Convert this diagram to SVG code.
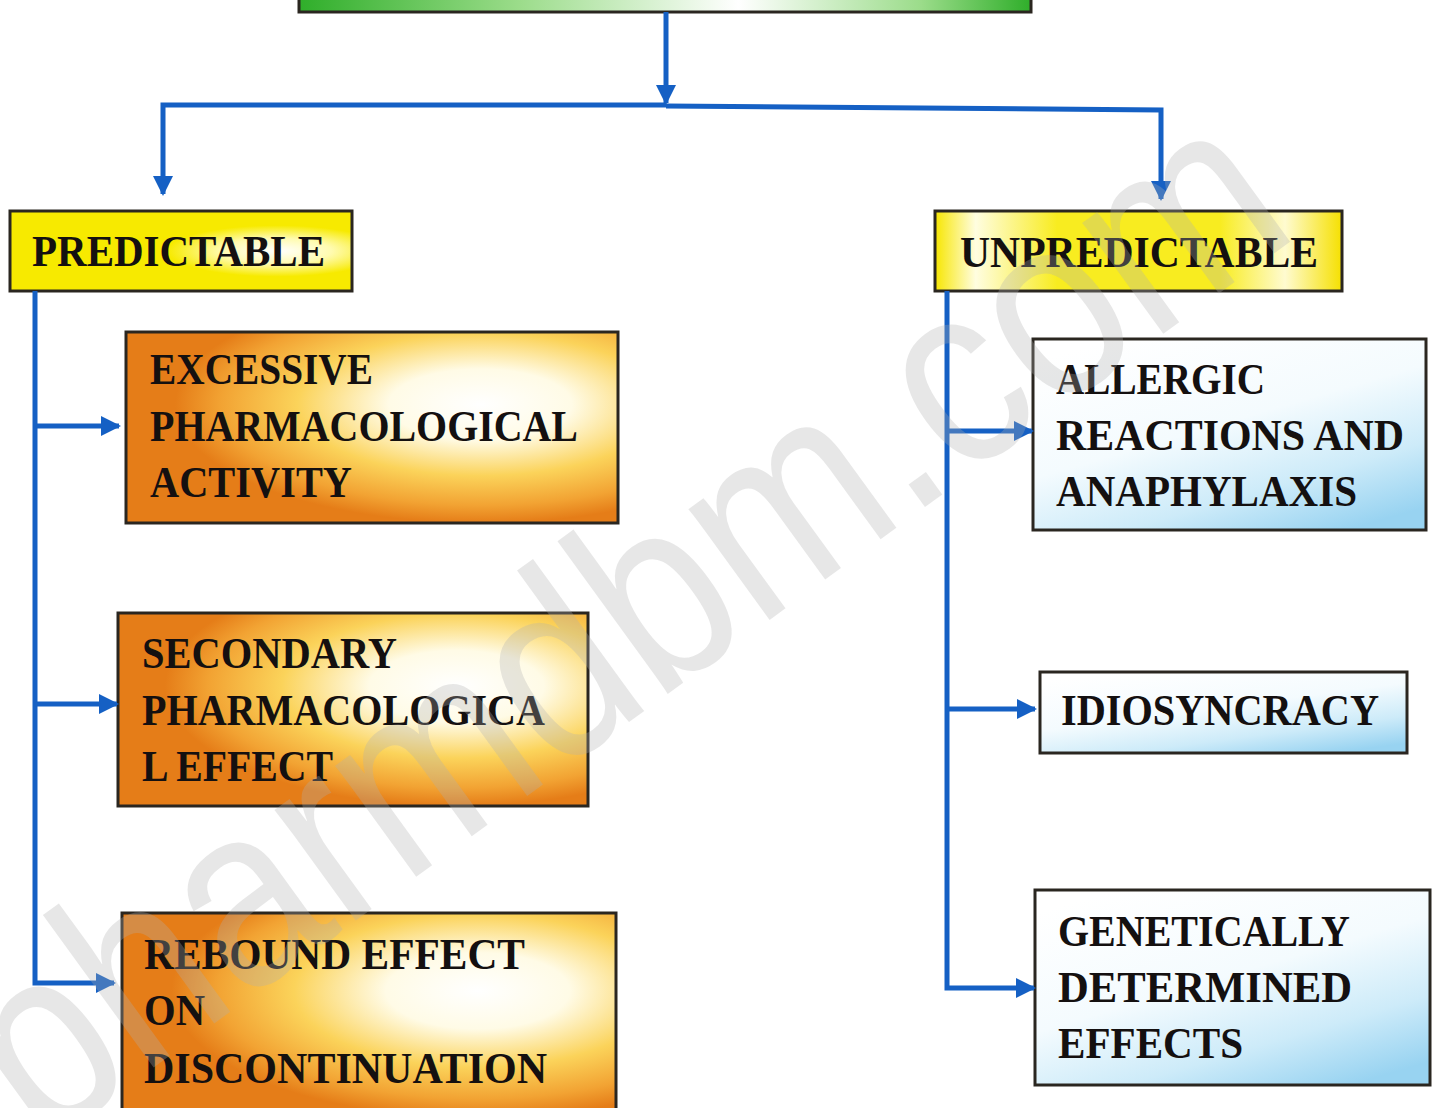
<svg xmlns="http://www.w3.org/2000/svg" width="1432" height="1108" viewBox="0 0 1432 1108">
<defs>
<linearGradient id="gGreen" x1="0" y1="0" x2="1" y2="0">
<stop offset="0" stop-color="#2fae2a"/><stop offset="0.3" stop-color="#9bdc8a"/><stop offset="0.6" stop-color="#ffffff"/><stop offset="0.85" stop-color="#9bdc8a"/><stop offset="1" stop-color="#2fae2a"/>
</linearGradient>
<radialGradient id="gYellowL" cx="0.78" cy="0.5" r="0.32">
<stop offset="0" stop-color="#ffffff"/><stop offset="0.5" stop-color="#fffbb0"/><stop offset="1" stop-color="#f7ea00"/>
</radialGradient>
<linearGradient id="gYellowR" x1="0" y1="0" x2="1" y2="0">
<stop offset="0" stop-color="#f7e600"/><stop offset="0.1" stop-color="#fffde0"/><stop offset="0.3" stop-color="#f8ec20"/><stop offset="0.7" stop-color="#f8ec20"/><stop offset="0.86" stop-color="#fffbd0"/><stop offset="1" stop-color="#f5e000"/>
</linearGradient>
<radialGradient id="gOrange" cx="0.72" cy="0.38" r="0.62">
<stop offset="0" stop-color="#ffffff"/><stop offset="0.3" stop-color="#fffbe6"/><stop offset="0.6" stop-color="#fbd35a"/><stop offset="0.85" stop-color="#f2a333"/><stop offset="1" stop-color="#e57d18"/>
</radialGradient>
<linearGradient id="gBlue" x1="0.2" y1="0" x2="0.8" y2="1">
<stop offset="0" stop-color="#ffffff"/><stop offset="0.45" stop-color="#f4fbfe"/><stop offset="0.75" stop-color="#cdebf9"/><stop offset="1" stop-color="#98d3f1"/>
</linearGradient>
<marker id="ah" viewBox="0 0 10 10" refX="9" refY="5" markerWidth="4" markerHeight="4" orient="auto" markerUnits="strokeWidth">
<path d="M0 0 L10 5 L0 10 Z" fill="#1560c4"/>
</marker>
</defs>
<style>
.box{stroke:#2a2620;stroke-width:3}
.t{font-family:"Liberation Serif","DejaVu Serif",serif;font-weight:bold;font-size:44px;fill:#141010}
.c{fill:none;stroke:#1560c4;stroke-width:5}
</style>
<rect width="1432" height="1108" fill="#ffffff"/>

<g id="root"><rect class="box" x="299" y="-10" width="732" height="22" fill="url(#gGreen)"/></g>

<g id="predictable"><rect class="box" x="10" y="211" width="342" height="80" fill="url(#gYellowL)"/>
<text class="t" x="32" y="266" textLength="293" lengthAdjust="spacingAndGlyphs">PREDICTABLE</text></g>

<g id="unpredictable"><rect class="box" x="935" y="211" width="407" height="80" fill="url(#gYellowR)"/>
<text class="t" x="960" y="267" textLength="358" lengthAdjust="spacingAndGlyphs">UNPREDICTABLE</text></g>

<g id="excessive"><rect class="box" x="126" y="332" width="492" height="191" fill="url(#gOrange)"/>
<text class="t" x="150" y="384" textLength="223" lengthAdjust="spacingAndGlyphs">EXCESSIVE</text>
<text class="t" x="150" y="441" textLength="428" lengthAdjust="spacingAndGlyphs">PHARMACOLOGICAL</text>
<text class="t" x="150" y="497" textLength="202" lengthAdjust="spacingAndGlyphs">ACTIVITY</text></g>

<g id="secondary"><rect class="box" x="118" y="613" width="470" height="193" fill="url(#gOrange)"/>
<text class="t" x="142" y="668" textLength="255" lengthAdjust="spacingAndGlyphs">SECONDARY</text>
<text class="t" x="142" y="725" textLength="403" lengthAdjust="spacingAndGlyphs">PHARMACOLOGICA</text>
<text class="t" x="142" y="781" textLength="191" lengthAdjust="spacingAndGlyphs">L EFFECT</text></g>

<g id="rebound"><rect class="box" x="122" y="913" width="494" height="205" fill="url(#gOrange)"/>
<text class="t" x="144" y="969" textLength="381" lengthAdjust="spacingAndGlyphs">REBOUND EFFECT</text>
<text class="t" x="144" y="1025" textLength="61" lengthAdjust="spacingAndGlyphs">ON</text>
<text class="t" x="144" y="1083" textLength="403" lengthAdjust="spacingAndGlyphs">DISCONTINUATION</text></g>

<g id="allergic"><rect class="box" x="1033" y="339" width="393" height="191" fill="url(#gBlue)"/>
<text class="t" x="1056" y="394" textLength="209" lengthAdjust="spacingAndGlyphs">ALLERGIC</text>
<text class="t" x="1056" y="450" textLength="348" lengthAdjust="spacingAndGlyphs">REACTIONS AND</text>
<text class="t" x="1056" y="506" textLength="301" lengthAdjust="spacingAndGlyphs">ANAPHYLAXIS</text></g>

<g id="idiosyncracy"><rect class="box" x="1040" y="672" width="367" height="81" fill="url(#gBlue)"/>
<text class="t" x="1061" y="725" textLength="318" lengthAdjust="spacingAndGlyphs">IDIOSYNCRACY</text></g>

<g id="genetic"><rect class="box" x="1035" y="890" width="395" height="195" fill="url(#gBlue)"/>
<text class="t" x="1058" y="946" textLength="292" lengthAdjust="spacingAndGlyphs">GENETICALLY</text>
<text class="t" x="1058" y="1002" textLength="294" lengthAdjust="spacingAndGlyphs">DETERMINED</text>
<text class="t" x="1058" y="1058" textLength="185" lengthAdjust="spacingAndGlyphs">EFFECTS</text></g>

<g id="connectors">
<path class="c" d="M666 12 V103" marker-end="url(#ah)"/>
<path class="c" d="M666 105 H163 V194" marker-end="url(#ah)"/>
<path class="c" d="M666 106 L1161 110 V199" marker-end="url(#ah)"/>
<path class="c" d="M35 291 V983 H114" marker-end="url(#ah)"/>
<path class="c" d="M35 426 H119" marker-end="url(#ah)"/>
<path class="c" d="M35 704 H117" marker-end="url(#ah)"/>
<path class="c" d="M947 291 V988 H1034" marker-end="url(#ah)"/>
<path class="c" d="M947 431 H1032" marker-end="url(#ah)"/>
<path class="c" d="M947 709 H1035" marker-end="url(#ah)"/>
</g>

<text transform="translate(40 1150) rotate(-36)" font-family="'Liberation Sans',Arial,sans-serif" font-size="260" fill="#b0b0b0" fill-opacity="0.3" textLength="1560" lengthAdjust="spacingAndGlyphs">pharmdbm.com</text>
</svg>
